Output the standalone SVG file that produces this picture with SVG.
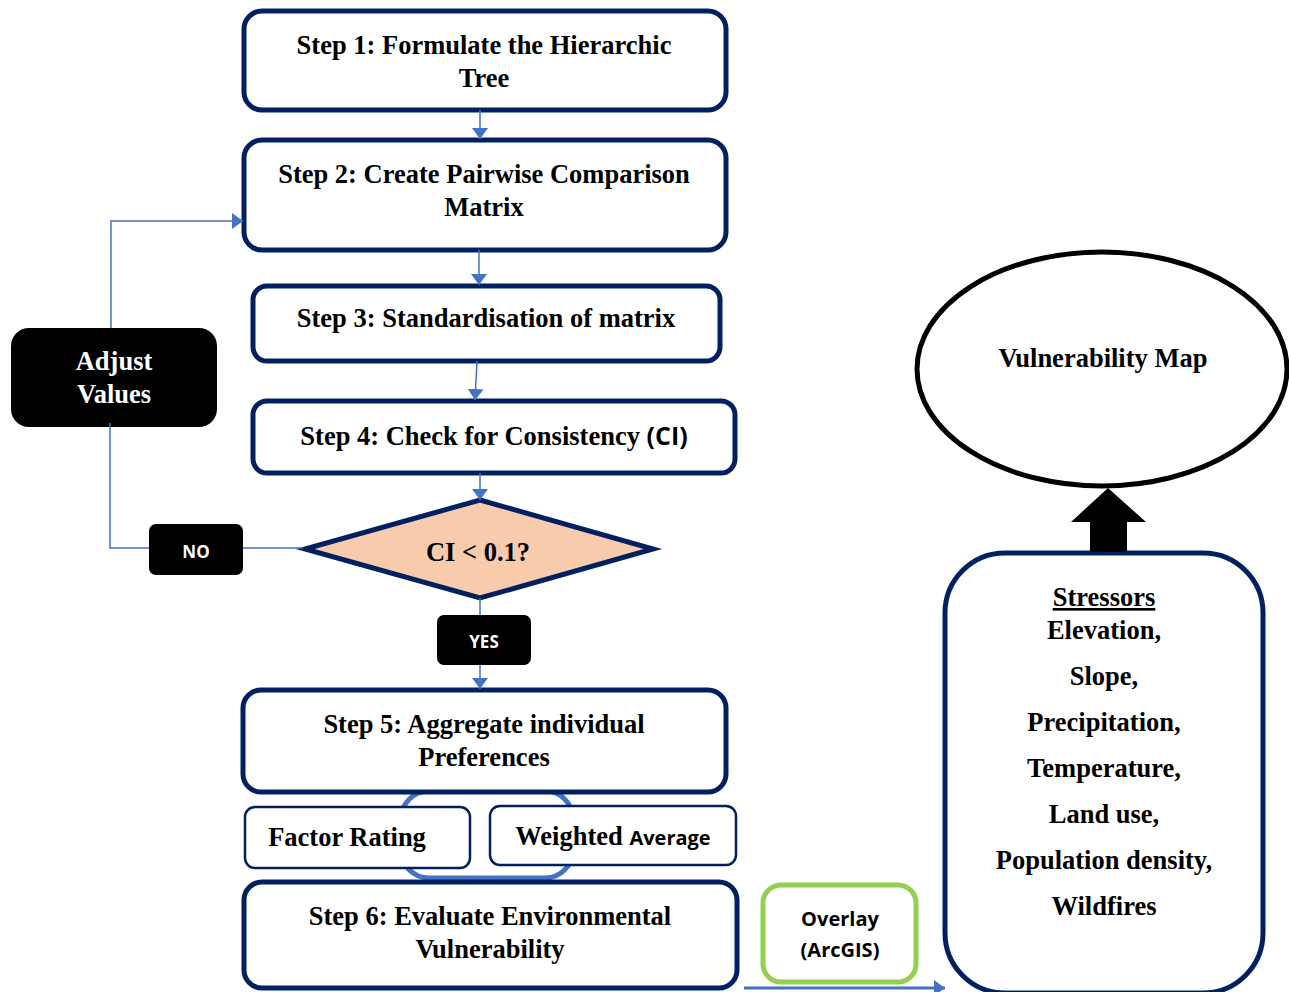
<svg xmlns="http://www.w3.org/2000/svg" width="1289" height="992" viewBox="0 0 1289 992">
<defs>
<marker id="ah" viewBox="0 0 11 16" refX="11" refY="8" markerWidth="11" markerHeight="16" orient="auto" markerUnits="userSpaceOnUse">
<path d="M0,0 L11,8 L0,16 z" fill="#4472C4"/>
</marker>
<style>
.box{fill:#fff;stroke:#002060;stroke-width:5}
.thin{fill:#fff;stroke:#002060;stroke-width:2.5}
.t{font-family:"Liberation Serif","Times New Roman",serif;font-weight:bold;font-size:26.5px;fill:#000;text-anchor:middle}
.s{font-family:"Open Sans","Liberation Sans",sans-serif;font-weight:bold;fill:#000}
.wt{font-family:"Open Sans","Liberation Sans",sans-serif;font-weight:bold;font-size:17px;fill:#fff;text-anchor:middle}
.c{fill:none;stroke:#4472C4;stroke-width:1.5}
</style>
</defs>
<g id="ring"><rect x="401" y="791" width="172" height="87" rx="28" fill="none" stroke="#4472C4" stroke-width="5"/></g>
<g id="step1"><rect class="box" x="244" y="11" width="482" height="99" rx="18"/>
<text class="t" x="484" y="54">Step 1: Formulate the Hierarchic</text><text class="t" x="484" y="87">Tree</text></g>
<g id="step2"><rect class="box" x="244" y="140" width="482" height="110" rx="18"/>
<text class="t" x="484" y="183">Step 2: Create Pairwise Comparison</text><text class="t" x="484" y="216">Matrix</text></g>
<g id="step3"><rect class="box" x="253" y="286" width="467" height="75" rx="14"/>
<text class="t" x="486" y="327">Step 3: Standardisation of matrix</text></g>
<g id="step4"><rect class="box" x="253" y="401" width="482" height="72" rx="14"/>
<text class="t" x="494" y="445">Step 4: Check for Consistency <tspan font-family="Open Sans,Liberation Sans,sans-serif" font-size="25">(CI)</tspan></text></g>
<g id="decision"><polygon points="480,500 653,549 480,598 305,549" fill="#F8CBAD" stroke="#002060" stroke-width="5" stroke-linejoin="miter"/>
<text class="t" x="478" y="561">CI &lt; 0.1?</text></g>
<g id="adjust"><rect x="11" y="328" width="206" height="99" rx="18" fill="#000"/>
<text class="t" x="114" y="370" style="fill:#fff">Adjust</text><text class="t" x="114" y="403" style="fill:#fff">Values</text></g>
<g id="step5"><rect class="box" x="243" y="690" width="483" height="102" rx="18"/>
<text class="t" x="484" y="733">Step 5: Aggregate individual</text><text class="t" x="484" y="766">Preferences</text></g>
<g id="factor"><rect class="thin" x="245" y="807" width="225" height="61" rx="10"/>
<text class="t" x="347" y="846">Factor Rating</text></g>
<g id="weighted"><rect class="thin" x="490" y="806" width="246" height="59" rx="10"/>
<text class="t" x="613" y="845">Weighted <tspan font-family="Open Sans,Liberation Sans,sans-serif" font-size="20">Average</tspan></text></g>
<g id="step6"><rect class="box" x="244" y="882" width="493" height="106" rx="18"/>
<text class="t" x="490" y="925">Step 6: Evaluate Environmental</text><text class="t" x="490" y="958">Vulnerability</text></g>
<g id="overlay"><rect x="763" y="885" width="153" height="97" rx="18" fill="#fff" stroke="#92D050" stroke-width="5"/>
<text class="s" x="840" y="926" font-size="20" text-anchor="middle">Overlay</text><text class="s" x="840" y="957" font-size="20" text-anchor="middle">(ArcGIS)</text></g>
<g id="stressors"><rect class="box" x="945" y="553" width="318" height="440" rx="60"/>
<text class="t" x="1104" y="606" text-decoration="underline">Stressors</text>
<text class="t" x="1104" y="639">Elevation,</text>
<text class="t" x="1104" y="685">Slope,</text>
<text class="t" x="1104" y="731">Precipitation,</text>
<text class="t" x="1104" y="777">Temperature,</text>
<text class="t" x="1104" y="823">Land use,</text>
<text class="t" x="1104" y="869">Population density,</text>
<text class="t" x="1104" y="915">Wildfires</text></g>
<g id="map"><ellipse cx="1102" cy="369" rx="185" ry="117" fill="#fff" stroke="#000" stroke-width="5"/>
<text class="t" x="1103" y="367">Vulnerability Map</text></g>
<g id="connectors">
<line class="c" x1="480" y1="110" x2="480" y2="139" marker-end="url(#ah)"/>
<line class="c" x1="479" y1="250" x2="479" y2="285" marker-end="url(#ah)"/>
<line class="c" x1="477" y1="361" x2="475" y2="400" marker-end="url(#ah)"/>
<line class="c" x1="480" y1="473" x2="480" y2="500" marker-end="url(#ah)"/>
<line class="c" x1="480" y1="598" x2="480" y2="689" marker-end="url(#ah)"/>
<polyline class="c" points="303,548 110,548 110,423"/>
<polyline class="c" points="111,328 111,221 243,221" marker-end="url(#ah)"/>
<line x1="744" y1="988" x2="945" y2="988" stroke="#4472C4" stroke-width="3" marker-end="url(#ah)"/>
<polygon points="1090,552 1127,552 1127,522 1146,522 1108,488 1071,522 1090,522" fill="#000"/>
</g>
<g id="no"><rect x="149" y="524" width="94" height="51" rx="7" fill="#000"/><text class="wt" x="196" y="558">NO</text></g>
<g id="yes"><rect x="437" y="615" width="94" height="50" rx="7" fill="#000"/><text class="wt" x="484" y="648">YES</text></g>
</svg>
